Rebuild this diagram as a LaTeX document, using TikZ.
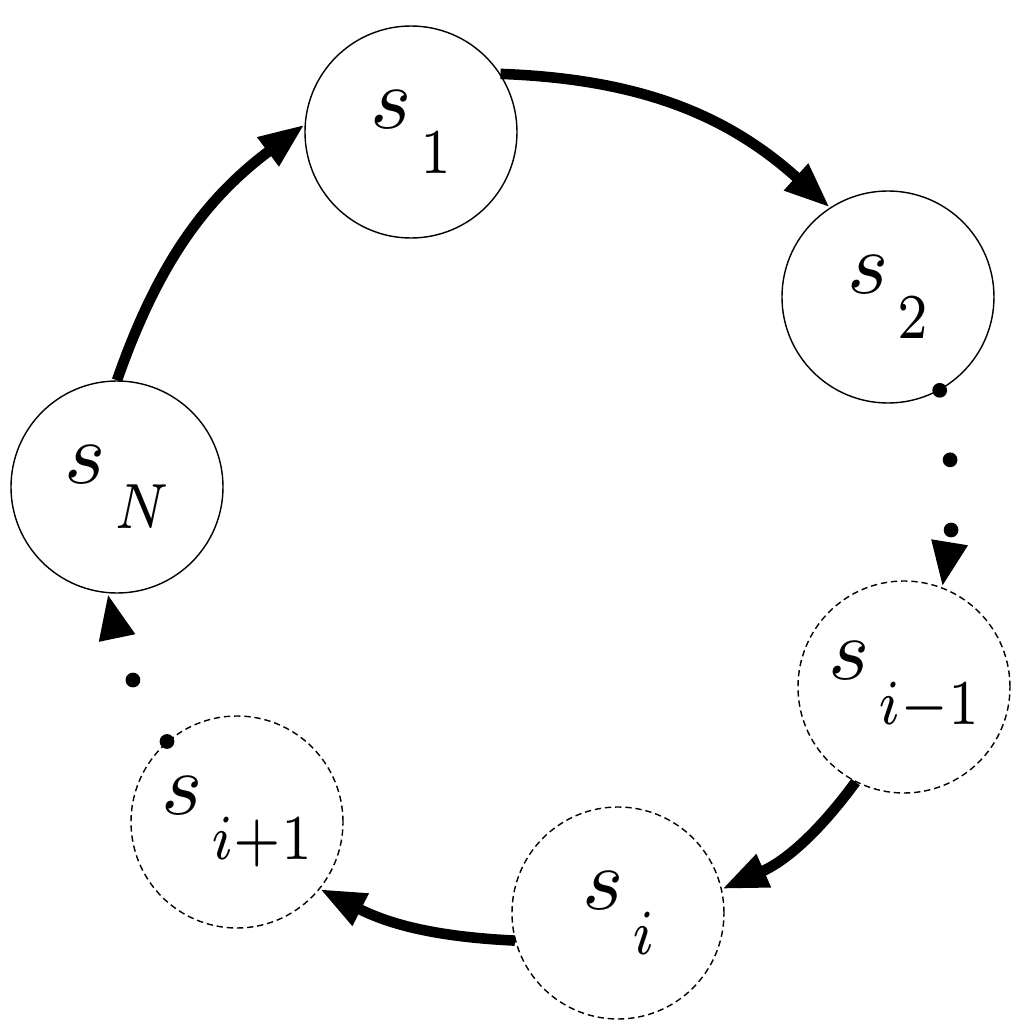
\documentclass[tikz,border=0pt]{standalone}
\usetikzlibrary{arrows.meta}

\newcommand{\stlabel}[1]{\scalebox{2.5}{$s$}\kern2.5pt\raisebox{-13pt}{\scalebox{2.2}[2.6]{$\scriptstyle #1$}}}

\tikzset{
  stnode/.style = {circle, draw, thin, minimum size = 2.12cm, inner sep = 0pt},
  ghost/.style = {stnode, dash pattern = on 1.8pt off 1.1pt},
  link/.style = {line width = 3pt, -{Triangle[length = 13pt, width = 9.5pt]}},
  skip/.style = {line width = 4.2pt, line cap = round, dash pattern = on 0pt off 20pt,
    -{Triangle[length = 13pt, width = 9.5pt]}}
}

\begin{document}
\begin{tikzpicture}
\useasboundingbox (0,0) rectangle (10.24,10.32);

\node[stnode] (s1) at (4.11, 9.00) {\stlabel{1}};
\node[stnode] (s2) at (8.88, 7.35) {\stlabel{2}};
\node[stnode] (sN) at (1.17, 5.45) {\stlabel{N}};
\node[ghost] (sim) at (9.04, 3.45) {\stlabel{i-1}};
\node[ghost] (si) at (6.18, 1.19) {\stlabel{i}};
\node[ghost] (sip) at (2.37, 2.10) {\stlabel{i+1}};

\draw[link] (s1.33) to[bend left = 20] (s2.123);
\draw[skip] (s2.-61) to[bend left = 10] (sim.69);
\draw[link] (sim.243) to[bend left = 15] (si.13);
\draw[link] (si.195) to[bend left = 12] (sip.321);
\draw[skip] (sip.131) to[bend left = 10] (sN.265);
\draw[link] (sN.90) to[bend left = 17] (s1.176);
\end{tikzpicture}
\end{document}
